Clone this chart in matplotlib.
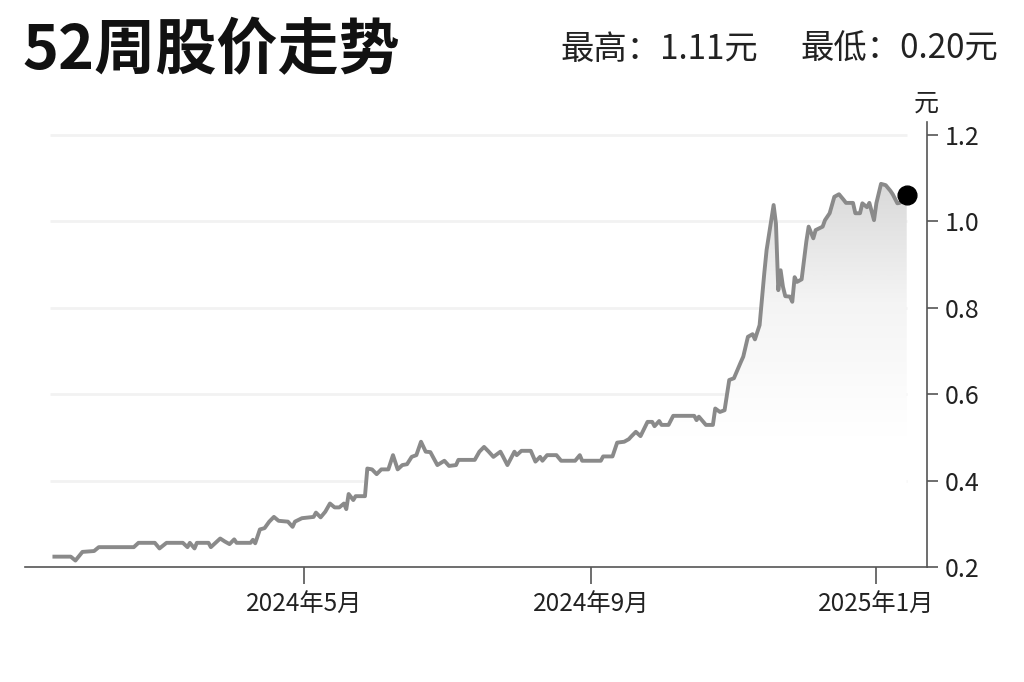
import matplotlib
matplotlib.use('Agg')
import matplotlib.pyplot as plt
import matplotlib.dates as mdates
import numpy as np
from matplotlib.colors import LinearSegmentedColormap

plt.rcParams['font.family'] = ['Noto Sans CJK SC', 'DejaVu Sans']

# ---------------- data ----------------
base_date = '2024-01-01'
day_offsets = [14, 21, 23, 26, 31, 33, 48, 50, 57, 59, 62, 69, 71, 72, 74, 75, 80, 81, 85, 87,
               89, 91, 92, 98, 99, 100, 102, 104, 106, 108, 110, 114, 116, 117, 120, 125, 126, 128, 130, 132,
               134, 136, 138, 139, 140, 142, 143, 147, 148, 150, 152, 154, 157, 159, 161, 163, 165, 167, 169, 171,
               173, 175, 178, 181, 183, 186, 187, 194, 196, 198, 200, 202, 205, 206, 208, 211, 212, 214, 218, 220,
               222, 223, 225, 229, 231, 237, 239, 240, 248, 249, 253, 255, 258, 260, 261, 263, 265, 268, 270, 271,
               273, 274, 277, 279, 288, 289, 290, 293, 296, 297, 299, 301, 303, 305, 308, 309, 311, 313, 314, 316,
               318, 319, 322, 323, 324, 325, 326, 327, 329, 330, 331, 332, 334, 336, 337, 339, 340, 343, 344, 346,
               348, 350, 352, 353, 356, 357, 359, 360, 362, 363, 365, 366, 368, 370, 372, 373, 375, 376, 379]
prices = [0.224, 0.224, 0.215, 0.235, 0.237, 0.246, 0.246, 0.256, 0.256, 0.243, 0.256, 0.256, 0.246, 0.256, 0.243, 0.256, 0.256, 0.246, 0.266, 0.259,
          0.253, 0.264, 0.256, 0.256, 0.263, 0.255, 0.287, 0.290, 0.305, 0.316, 0.307, 0.305, 0.293, 0.305, 0.313, 0.316, 0.326, 0.315, 0.328, 0.347,
          0.338, 0.338, 0.347, 0.334, 0.369, 0.355, 0.364, 0.364, 0.428, 0.426, 0.415, 0.426, 0.426, 0.459, 0.426, 0.436, 0.438, 0.455, 0.459, 0.490,
          0.467, 0.466, 0.436, 0.446, 0.434, 0.436, 0.448, 0.448, 0.467, 0.478, 0.467, 0.455, 0.467, 0.457, 0.436, 0.467, 0.459, 0.469, 0.469, 0.444,
          0.455, 0.446, 0.459, 0.459, 0.446, 0.446, 0.459, 0.446, 0.446, 0.456, 0.456, 0.488, 0.490, 0.496, 0.502, 0.513, 0.503, 0.536, 0.536, 0.526,
          0.538, 0.529, 0.529, 0.550, 0.550, 0.540, 0.548, 0.529, 0.529, 0.567, 0.559, 0.563, 0.633, 0.637, 0.675, 0.687, 0.733, 0.739, 0.727, 0.760,
          0.880, 0.934, 1.038, 0.995, 0.841, 0.887, 0.849, 0.827, 0.826, 0.814, 0.871, 0.860, 0.866, 0.953, 0.988, 0.961, 0.980, 0.988, 1.003, 1.019,
          1.057, 1.063, 1.050, 1.043, 1.043, 1.019, 1.019, 1.042, 1.033, 1.043, 1.003, 1.042, 1.087, 1.084, 1.071, 1.063, 1.042, 1.043, 1.061]

tick_dates = ['2024-05-01', '2024-09-01', '2025-01-01']
tick_labels = ['2024年5月', '2024年9月', '2025年1月']
y_ticks = [0.2, 0.4, 0.6, 0.8, 1.0, 1.2]
y_tick_labels = ['0.2', '0.4', '0.6', '0.8', '1.0', '1.2']
title_text = '52周股价走势'
high_price = '1.11'
low_price = '0.20'
unit = '元'

# ---------------- figure ----------------
fig = plt.figure(figsize=(10.24, 6.82), dpi=100)
ax = fig.add_axes([0.0244, 0.1686, 0.8809, 0.653])

base = np.datetime64(base_date)
dates = base + np.array(day_offsets).astype('timedelta64[D]')
x = mdates.date2num(dates.astype('datetime64[ms]').astype(object))
y = np.array(prices)

x_left = mdates.date2num(np.datetime64('2024-01-02').astype(object)) + 0.4
x_right = mdates.date2num(np.datetime64('2025-01-22').astype(object)) + 0.7
y_min, y_max = 0.2, 1.231

# gridlines over the data span
for yt in y_ticks[1:]:
    ax.plot([x[0] - 2, x[-1]], [yt, yt], color='#f2f2f2', lw=2.0, zorder=1, solid_capstyle='butt')

# gradient fill under the line
cmap = LinearSegmentedColormap.from_list('g', ['#ffffff', '#ffffff', '#f4f4f4', '#d6d6d6'])
grad = np.linspace(0, 1, 256).reshape(-1, 1)
im = ax.imshow(grad, extent=[x[0], x[-1], y_min, 1.12], origin='lower', aspect='auto',
               cmap=cmap, zorder=2, interpolation='bicubic')
poly_x = np.concatenate([[x[0]], x, [x[-1]]])
poly_y = np.concatenate([[y_min], y, [y_min]])
clip = plt.Polygon(np.column_stack([poly_x, poly_y]), closed=True, transform=ax.transData,
                   facecolor='none', edgecolor='none')
ax.add_patch(clip)
im.set_clip_path(clip)

ax.plot(x, y, color='#8a8a8a', lw=2.8, zorder=3, solid_joinstyle='round')
ax.plot([x[-1]], [y[-1]], 'o', color='black', markersize=13.5, zorder=4)

ax.set_xlim(x_left, x_right)
ax.set_ylim(y_min, y_max)

# axes styling
for s in ['left', 'top']:
    ax.spines[s].set_visible(False)
ax.spines['bottom'].set_color('#555555')
ax.spines['bottom'].set_linewidth(1.2)
ax.spines['right'].set_color('#555555')
ax.spines['right'].set_linewidth(1.2)

ax.yaxis.tick_right()
ax.set_yticks(y_ticks)
ax.set_yticklabels(y_tick_labels)
ax.tick_params(axis='y', length=8, width=1.2, color='#555555', labelsize=18, labelcolor='#222222', pad=5)

xt = [mdates.date2num(np.datetime64(d).astype(object)) for d in tick_dates]
ax.set_xticks(xt)
ax.set_xticklabels(tick_labels)
ax.tick_params(axis='x', length=12, width=1.2, color='#555555', labelsize=17.5, labelcolor='#222222', pad=6)

ax.set_facecolor('none')

# texts
fig.text(0.022, 0.925, title_text, fontsize=44, fontweight='bold', color='#111111', va='center', ha='left')
fig.text(0.740, 0.928, f'最高：{high_price}元', fontsize=24, color='#222222', va='center', ha='right')
fig.text(0.975, 0.928, f'最低：{low_price}元', fontsize=24, color='#222222', va='center', ha='right')
fig.text(0.905, 0.848, unit, fontsize=18, color='#222222', va='center', ha='center')

fig.savefig('out.png', dpi=100, facecolor='white')
